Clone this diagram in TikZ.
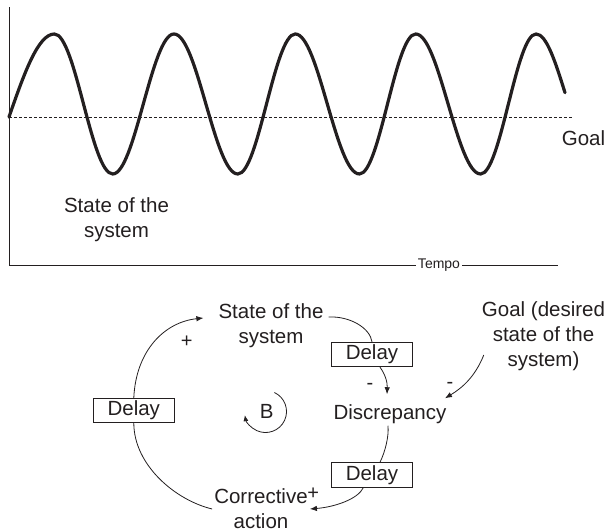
\documentclass[tikz,border=0pt]{standalone}
\usepackage{fontspec}
\setmainfont{Liberation Sans}
\usetikzlibrary{arrows.meta,calc}
\definecolor{ink}{RGB}{35,31,32}
\begin{document}
\begin{tikzpicture}[x=1pt,y=1pt,
  txt/.style={font=\fontsize{20.5}{25}\selectfont, text=ink, inner sep=2pt, align=center},
  delaybox/.style={draw=ink, line width=0.9pt, font=\fontsize{20.5}{25}\selectfont, text=ink, minimum width=81pt, minimum height=24.5pt, inner sep=0pt},
  sign/.style={font=\fontsize{20}{22}\selectfont, text=ink, inner sep=0pt},
  link/.style={draw=ink, line width=0.8pt},
  arr/.style={link, -{Latex[length=7pt,width=5.5pt]}}
]
\useasboundingbox (0,0) rectangle (608,532);
% ---------- top chart ----------
\coordinate (ytop) at (9,524.5);
\coordinate (origin) at (9,267);
\coordinate (xend) at (558,267);
\draw[ink, line width=0.9pt] (ytop) -- (origin) -- (xend);
\node[fill=white, font=\fontsize{14}{16}\selectfont, text=ink, inner sep=1.5pt] (tempo) at (439,267) {Tempo};
\coordinate (gl0) at (9,415);
\coordinate (gl1) at (573,415);
\draw[ink, line width=0.7pt, dash pattern=on 3pt off 2pt] (gl0) -- (gl1);
\node[txt] (goal) at (583.5,393.7) {Goal};
\node[txt] (statetop) at (116.5,312.5) {State of the\\system};
\draw[ink, line width=3.2pt, line cap=round]
  (9,415) sin (54.4,498) cos (83.5,428) sin (112.7,358) cos (143.3,428)
  sin (174,498) cos (205.9,428) sin (237.8,358) cos (266.5,428)
  sin (295.3,498) cos (327.3,428) sin (359.4,358) cos (387.5,428)
  sin (415.7,498) cos (448.1,428) sin (480.6,358) cos (508.4,428)
  sin (536.1,498) cos (565,439.3);
% ---------- causal loop ----------
\node[txt] (state) at (271,206) {State of the\\system};
\node[txt] (goal2) at (543.5,196) {Goal (desired\\state of the\\system)};
\node[txt] (disc) at (390,118) {Discrepancy};
\node[txt] (corr) at (261,23) {Corrective\\action};
\node[delaybox] (d1) at (372,177.5) {Delay};
\node[delaybox] (d2) at (372,57) {Delay};
\node[delaybox] (d3) at (133.8,121.5) {Delay};
\node[txt, inner sep=0pt] (B) at (266.7,120.3) {B};
% connectors
\draw[arr] (d3.north) .. controls (136,182) and (165,210) .. ($(state.west)+(-13,8)$);
\draw[link] (d3.south) .. controls (134,67) and (175,32) .. (corr.west);
\draw[link] ($(state.east)+(3,9)$) .. controls (350,216) and (370,204) .. (d1.north);
\draw[arr] ([xshift=8pt]d1.south) .. controls (385,158) and (387.5,150) .. ($(disc.north)+(-3,8)$);
\draw[arr] ($(goal2.west)+(4,-19)$) .. controls (475,155) and (462,144) .. ($(disc.east)+(-3.6,15.7)$);
\draw[link] ($(disc.south)+(-2,0)$) .. controls (389,95) and (385,80) .. ([xshift=8pt]d2.north);
\draw[arr] ([xshift=-8.7pt]d2.south) .. controls (358,33) and (335,25) .. (corr.east);
% loop marker
\draw[link, -{Latex[length=6pt,width=5pt]}] ($(B)+(7.7,19.2)$) arc[start angle=65, end angle=-170, radius=21];
% signs
\node[sign] (p1) at (186.7,190.3) {+};
\node[sign] (m1) at (370,145.3) {-};
\node[sign] (m2) at (450,147) {-};
\node[sign] (p2) at (313.3,38.5) {+};
\end{tikzpicture}
\end{document}
